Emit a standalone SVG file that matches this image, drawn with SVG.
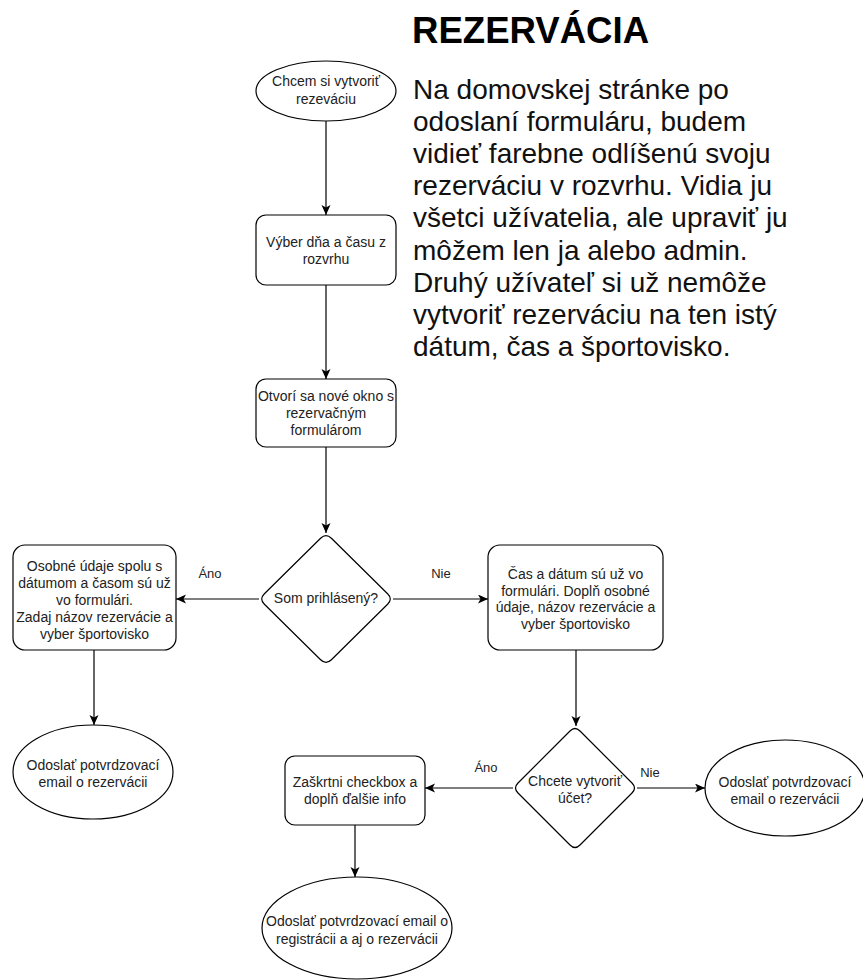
<svg xmlns="http://www.w3.org/2000/svg" width="863" height="980" viewBox="0 0 863 980">
  <style>
    .shape { fill: #ffffff; stroke: #000000; stroke-width: 1.2; }
    .edge { fill: none; stroke: #000000; stroke-width: 1.2; }
    .label { font-family: "Liberation Sans", Arial, sans-serif; font-size: 14px; fill: #222222; text-anchor: middle; }
    .edgelabel { font-family: "Liberation Sans", Arial, sans-serif; font-size: 13px; fill: #222222; text-anchor: middle; }
    .title { font-family: "Liberation Sans", Arial, sans-serif; font-size: 36.6px; font-weight: bold; fill: #000000; }
    .para { font-family: "Liberation Sans", Arial, sans-serif; font-size: 28px; fill: #111111; }
  </style>
  <defs>
    <marker id="arrow" markerUnits="userSpaceOnUse" markerWidth="12" markerHeight="10" refX="10" refY="4.5" orient="auto">
      <path d="M0,0 L10,4.5 L0,9 L2.5,4.5 Z" fill="#000000"/>
    </marker>
  </defs>

  <rect width="863" height="980" fill="#ffffff"/>

  <!-- heading and description -->
  <g id="header">
    <text class="title" x="412" y="43">REZERVÁCIA</text>
    <text class="para" x="413" y="99">Na domovskej stránke po</text>
    <text class="para" x="413" y="131">odoslaní formuláru, budem</text>
    <text class="para" x="413" y="163">vidieť farebne odlíšenú svoju</text>
    <text class="para" x="413" y="195">rezerváciu v rozvrhu. Vidia ju</text>
    <text class="para" x="413" y="227">všetci užívatelia, ale upraviť ju</text>
    <text class="para" x="413" y="260">môžem len ja alebo admin.</text>
    <text class="para" x="413" y="292">Druhý užívateľ si už nemôže</text>
    <text class="para" x="413" y="324">vytvoriť rezerváciu na ten istý</text>
    <text class="para" x="413" y="356">dátum, čas a športovisko.</text>
  </g>

  <!-- connectors -->
  <g id="connectors">
    <path class="edge" d="M326,121 L326,215" marker-end="url(#arrow)"/>
    <path class="edge" d="M326,285 L326,379" marker-end="url(#arrow)"/>
    <path class="edge" d="M326,447 L326,533" marker-end="url(#arrow)"/>
    <path class="edge" d="M259,599 L176,599" marker-end="url(#arrow)"/>
    <path class="edge" d="M393,599 L488,599" marker-end="url(#arrow)"/>
    <path class="edge" d="M94,650 L94,725" marker-end="url(#arrow)"/>
    <path class="edge" d="M576,650 L576,726" marker-end="url(#arrow)"/>
    <path class="edge" d="M513,788 L425,788" marker-end="url(#arrow)"/>
    <path class="edge" d="M637,788 L705,788" marker-end="url(#arrow)"/>
    <path class="edge" d="M355,825 L355,877" marker-end="url(#arrow)"/>
    <text class="edgelabel" x="210" y="578">Áno</text>
    <text class="edgelabel" x="441" y="578">Nie</text>
    <text class="edgelabel" x="486" y="772">Áno</text>
    <text class="edgelabel" x="650" y="777">Nie</text>
  </g>

  <g id="start">
    <ellipse class="shape" cx="326" cy="91" rx="70" ry="30"/>
    <text class="label" x="326" y="86">Chcem si vytvoriť</text>
    <text class="label" x="326" y="104">rezeváciu</text>
  </g>

  <g id="select-slot">
    <rect class="shape" x="256" y="215" width="140" height="70" rx="10"/>
    <text class="label" x="326" y="246.5">Výber dňa a času z</text>
    <text class="label" x="326" y="263.5">rozvrhu</text>
  </g>

  <g id="open-form">
    <rect class="shape" x="256" y="379" width="140" height="68" rx="10"/>
    <text class="label" x="326" y="401">Otvorí sa nové okno s</text>
    <text class="label" x="326" y="418">rezervačným</text>
    <text class="label" x="326" y="435">formulárom</text>
  </g>

  <g id="logged-in">
    <path class="shape" d="M331.4,538.3 L387.6,593.7 Q393,599 387.6,604.3 L331.4,659.7 Q326,665 320.6,659.7 L264.4,604.3 Q259,599 264.4,593.7 L320.6,538.3 Q326,533 331.4,538.3 Z"/>
    <text class="label" x="326" y="603">Som prihlásený?</text>
  </g>

  <g id="prefilled-form">
    <rect class="shape" x="13" y="545" width="163" height="105" rx="12"/>
    <text class="label" x="94.5" y="570.5">Osobné údaje spolu s</text>
    <text class="label" x="94.5" y="587.5">dátumom a časom sú už</text>
    <text class="label" x="94.5" y="604.5">vo formulári.</text>
    <text class="label" x="94.5" y="621.5">Zadaj názov rezervácie a</text>
    <text class="label" x="94.5" y="638.5">vyber športovisko</text>
  </g>

  <g id="guest-form">
    <rect class="shape" x="488" y="545" width="175" height="105" rx="12"/>
    <text class="label" x="575.5" y="579">Čas a dátum sú už vo</text>
    <text class="label" x="575.5" y="595.5">formulári. Doplň osobné</text>
    <text class="label" x="575.5" y="612">údaje, názov rezervácie a</text>
    <text class="label" x="575.5" y="628.5">vyber športovisko</text>
  </g>

  <g id="email-user">
    <ellipse class="shape" cx="93" cy="772" rx="80" ry="47"/>
    <text class="label" x="93" y="770">Odoslať potvrdzovací</text>
    <text class="label" x="93" y="787">email o rezervácii</text>
  </g>

  <g id="create-account">
    <path class="shape" d="M580,731 L632,783 Q637,788 632,793 L580,845 Q575,850 570,845 L518,793 Q513,788 518,783 L570,731 Q575,726 580,731 Z"/>
    <text class="label" x="575" y="786">Chcete vytvoriť</text>
    <text class="label" x="575" y="803">účet?</text>
  </g>

  <g id="checkbox">
    <rect class="shape" x="285" y="756" width="140" height="69" rx="10"/>
    <text class="label" x="355" y="787">Zaškrtni checkbox a</text>
    <text class="label" x="355" y="804">doplň ďalšie info</text>
  </g>

  <g id="email-guest">
    <ellipse class="shape" cx="785" cy="788" rx="80" ry="48"/>
    <text class="label" x="785" y="787">Odoslať potvrdzovací</text>
    <text class="label" x="785" y="804">email o rezervácii</text>
  </g>

  <g id="email-registration">
    <ellipse class="shape" cx="357" cy="928" rx="95" ry="51"/>
    <text class="label" x="357" y="926">Odoslať potvrdzovací email o</text>
    <text class="label" x="357" y="944">registrácii a aj o rezervácii</text>
  </g>
</svg>
